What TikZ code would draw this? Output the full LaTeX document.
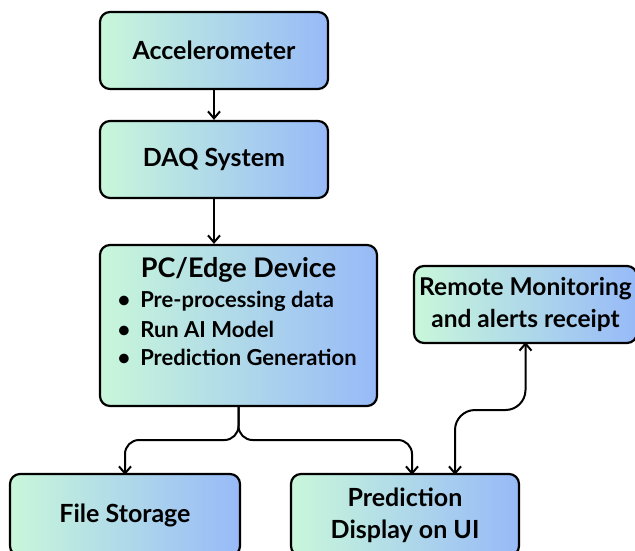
\documentclass[tikz,border=0pt]{standalone}
\usepackage{fontspec}
\setmainfont{Lato}
\usetikzlibrary{arrows.meta}

\definecolor{mintleft}{RGB}{200,247,218}
\definecolor{blueright}{RGB}{151,186,248}

\tikzset{
  block/.style={draw=black, line width=2.2pt, rounded corners=10pt,
    left color=mintleft, right color=blueright, shading angle=90,
    font=\bfseries\fontsize{25}{32}\selectfont, align=center, inner sep=0pt},
  bullet/.style={font=\bfseries\fontsize{22}{26}\selectfont, anchor=west},
  flow/.style={line width=2pt, -{Straight Barb[length=7pt,width=12pt]}},
}

\begin{document}
\begin{tikzpicture}[x=1pt, y=-1pt]
	\useasboundingbox (0,0) rectangle (635,550);
	\clip (0,0) rectangle (635,550);

	% sensor chain
	\node[block, minimum width=228pt, minimum height=77pt] (acc) at (214,50.5) {Accelerometer};
	\node[block, minimum width=228pt, minimum height=77pt] (daq) at (214,159.5) {DAQ System};

	% processing unit
	\node[block, minimum width=277pt, minimum height=161pt] (pc) at (238.5,325.5) {};
	\node[font=\bfseries\fontsize{27}{30}\selectfont] (pctitle) at (238.5,270) {PC/Edge Device};
	\node[bullet] (pcone) at (114,301) {•\hspace{10pt}Pre-processing data};
	\node[bullet] (pctwo) at (114,329) {•\hspace{10pt}Run AI Model};
	\node[bullet] (pcthree) at (114,357) {•\hspace{10pt}Prediction Generation};

	% outputs
	\node[block, minimum width=223pt, minimum height=77pt, font=\bfseries\fontsize{24.5}{32}\selectfont] (remote) at (525.5,304.5) {Remote Monitoring\\and alerts receipt};
	\node[block, minimum width=230pt, minimum height=82pt] (file) at (125,515) {File Storage};
	\node[block, minimum width=228pt, minimum height=82pt] (pred) at (405,515) {Prediction\\Display on UI};

	% connectors
	\draw[flow] (acc) -- (daq);
	\draw[flow] (daq.south) -- (daq.south |- pc.north);
	\draw[flow, rounded corners=14pt] (pc.south) -- (pc.south |- 0,440) -- (file.north |- 0,440) -- ([yshift=-2pt]file.north);
	\draw[flow, rounded corners=14pt] (pc.south) -- (pc.south |- 0,440) -- (412,440) -- ([xshift=7pt,yshift=-2pt]pred.north);
	\draw[flow, {Straight Barb[length=7pt,width=12pt]}-{Straight Barb[length=7pt,width=12pt]}, rounded corners=20pt]
	  ([xshift=50pt,yshift=-2pt]pred.north) -- (455,410) -- (remote.south |- 0,410) -- ([yshift=2pt]remote.south);
\end{tikzpicture}
\end{document}
